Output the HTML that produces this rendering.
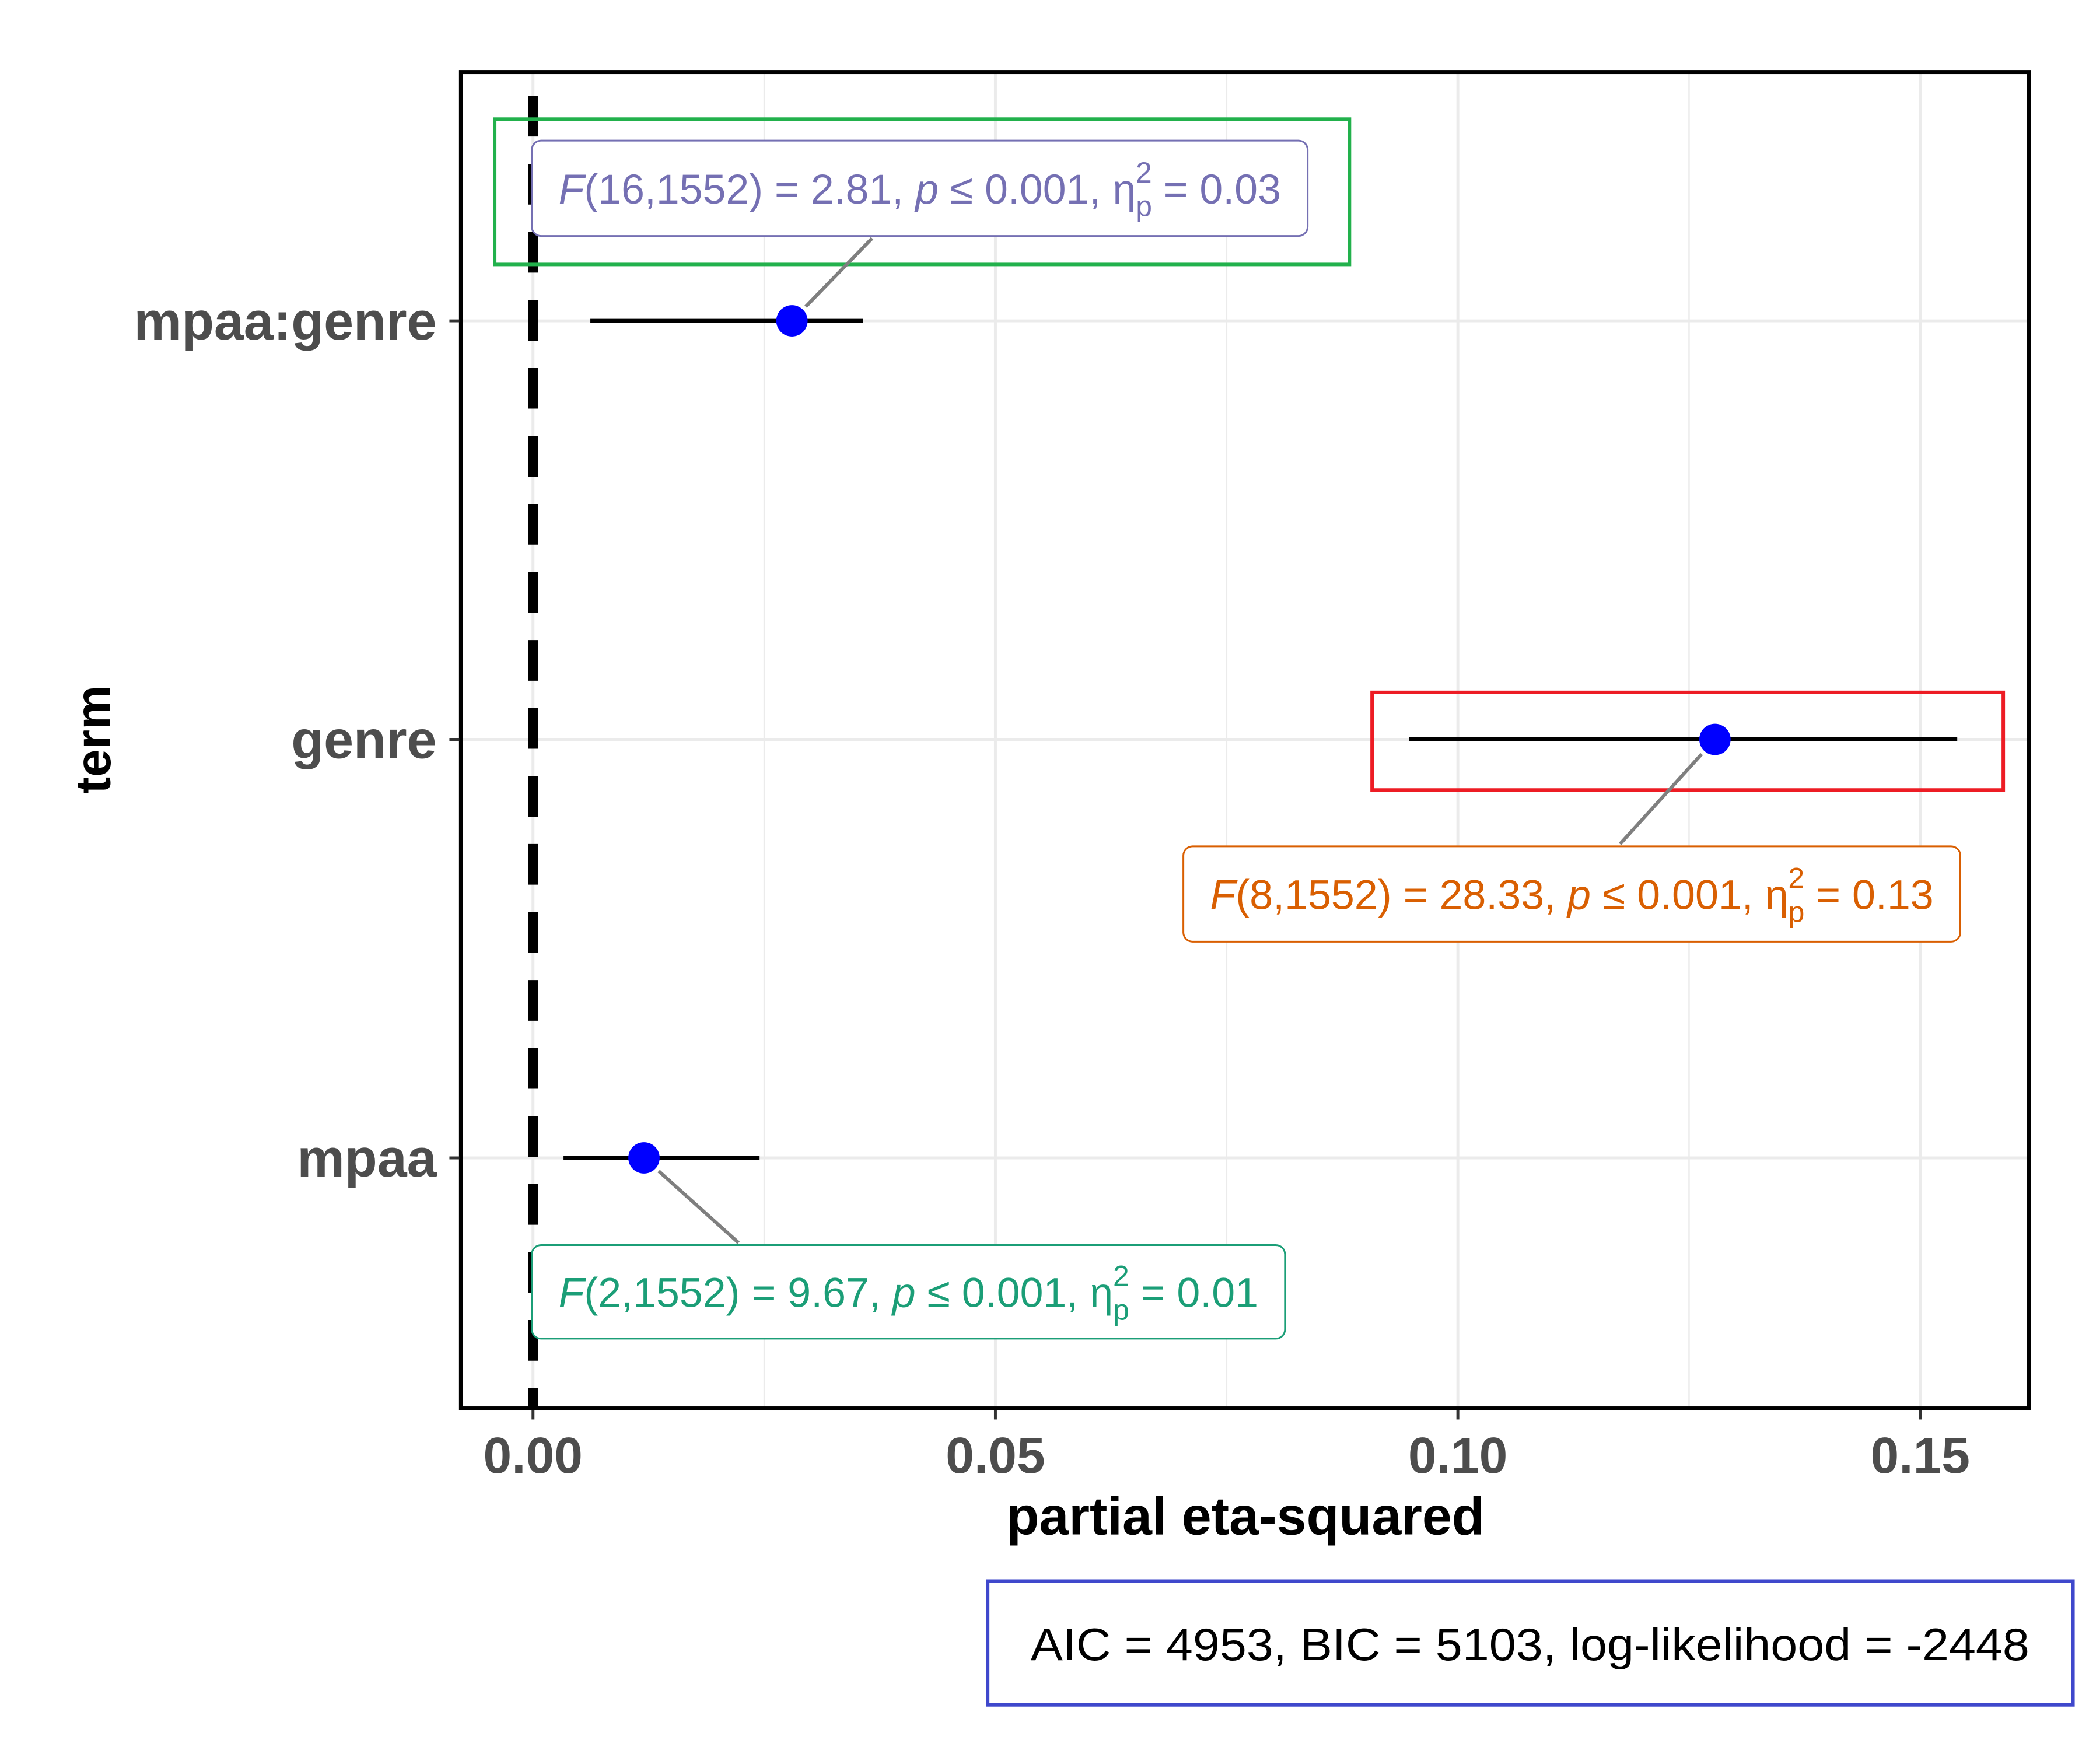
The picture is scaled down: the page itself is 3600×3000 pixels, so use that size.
<!DOCTYPE html>
<html><head><meta charset="utf-8"><style>
html,body{margin:0;padding:0;background:#fff;}
svg{display:block;font-family:"Liberation Sans",sans-serif;}
</style></head><body>
<svg id="chart" width="3600" height="3000" viewBox="0 0 3600 3000" xmlns="http://www.w3.org/2000/svg">
<g transform="scale(0.9954 0.9965)">
<g id="grid"></g>
<g id="marks"></g>
<g id="labels"></g>
<rect x="794" y="124" width="2700" height="2299" fill="none" stroke="#000" stroke-width="7"/>
<g id="axes"></g>
<text x="2145" y="2640" font-size="92" font-weight="bold" text-anchor="middle">partial eta-squared</text>
<text transform="translate(190,1272) rotate(-90)" font-size="86" font-weight="bold" text-anchor="middle">term</text>
<rect x="1701" y="2720" width="1869" height="213" fill="#fff" stroke="#3f48cc" stroke-width="6"/>
<text x="2635" y="2856" font-size="78" text-anchor="middle" textLength="1720" lengthAdjust="spacingAndGlyphs">AIC = 4953, BIC = 5103, log-likelihood = -2448</text>
</g>
</svg>
<script>
const categories = ["mpaa:genre","genre","mpaa"];
const estimates = [0.028, 0.1278, 0.012];
const ciLow = [0.0062, 0.0947, 0.0033];
const ciHigh = [0.0357, 0.154, 0.0245];
const xTicks = [0, 0.05, 0.10, 0.15];
const xTickLabels = ["0.00","0.05","0.10","0.15"];
const minorTicks = [0.025, 0.075, 0.125];

const NS="http://www.w3.org/2000/svg";
const X0=918, XS=(3307-918)/0.15;
const xs=v=>X0+v*XS;
const ys=i=>552+i*720;
function mk(parent,tag,attrs){const e=document.createElementNS(NS,tag);for(const k in attrs)e.setAttribute(k,attrs[k]);document.getElementById(parent).appendChild(e);return e;}

minorTicks.forEach(t=>{const l=mk('grid','line',{x1:xs(t),x2:xs(t),y1:122,y2:2423,stroke:'#ebebeb','stroke-width':2.5});

});
xTicks.forEach((t,i)=>{const l=mk('grid','line',{x1:xs(t),x2:xs(t),y1:122,y2:2423,stroke:'#ebebeb','stroke-width':5});


const tk=mk('axes','line',{x1:xs(t),x2:xs(t),y1:2426,y2:2442,stroke:'#333','stroke-width':5});


const tx=mk('axes','text',{x:xs(t),y:2534,'font-size':88,'font-weight':'bold',fill:'#4d4d4d','text-anchor':'middle'});
tx.textContent=xTickLabels[i];

});
categories.forEach((c,i)=>{const l=mk('grid','line',{x1:794,x2:3494,y1:ys(i),y2:ys(i),stroke:'#ebebeb','stroke-width':5});


const tk=mk('axes','line',{x1:774,x2:791,y1:ys(i),y2:ys(i),stroke:'#333','stroke-width':5});


const tx=mk('axes','text',{x:752,y:ys(i)+32,'font-size':92,'font-weight':'bold',fill:'#4d4d4d','text-anchor':'end'});
tx.textContent=c;

});

const zl=mk('marks','line',{x1:xs(0),x2:xs(0),y1:165,y2:2423,stroke:'#000','stroke-width':17,'stroke-dasharray':'70 47'});



categories.forEach((c,i)=>{const l=mk('marks','line',{x1:xs(ciLow[i]),x2:xs(ciHigh[i]),y1:ys(i),y2:ys(i),stroke:'#000','stroke-width':7});

});

const gr=mk('labels','rect',{x:852,y:205,width:1472,height:250,fill:'none',stroke:'#22b14c','stroke-width':6});


const rr=mk('labels','rect',{x:2363,y:1191,width:1087,height:168,fill:'none',stroke:'#ed1c24','stroke-width':6});



const boxes=[
 {x:916,y:242,w:1336,h:164,col:'#7570b3',F:'16,1552',Fv:'2.81',eta:'0.03',lx:1502,ly:410},
 {x:2038,y:1456,w:1338,h:164,col:'#d95f02',F:'8,1552',Fv:'28.33',eta:'0.13',lx:2790,ly:1452},
 {x:916,y:2142,w:1297,h:161,col:'#1b9e77',F:'2,1552',Fv:'9.67',eta:'0.01',lx:1272,ly:2138}
];
boxes.forEach((b,i)=>{
 const px=xs(estimates[i]),py=ys(i);
 const dx=b.lx-px,dy=b.ly-py,d=Math.hypot(dx,dy);
 const cl=mk('labels','line',{x1:px+dx/d*34,y1:py+dy/d*34,x2:b.lx,y2:b.ly,stroke:'#7f7f7f','stroke-width':6});
 
 
 const r=mk('labels','rect',{x:b.x,y:b.y,width:b.w,height:b.h,rx:16,fill:'#fff',stroke:b.col,'stroke-width':3});
 
 
 const t=mk('labels','text',{x:b.x+46,y:b.y+b.h/2+26,'font-size':72,fill:b.col,textLength:b.w-92,lengthAdjust:'spacingAndGlyphs'});
 t.innerHTML='<tspan font-style="italic">F</tspan>('+b.F+') = '+b.Fv+',  <tspan font-style="italic">p</tspan> ≤ 0.001,  η<tspan font-size="50" dy="22">p</tspan><tspan font-size="50" dx="-28" dy="-58">2</tspan><tspan dy="36"> = '+b.eta+'</tspan>';
 
 
});

categories.forEach((c,i)=>{const p=mk('marks','circle',{cx:xs(estimates[i]),cy:ys(i),r:27,fill:'#0000ff'});

});
</script>
</body></html>
